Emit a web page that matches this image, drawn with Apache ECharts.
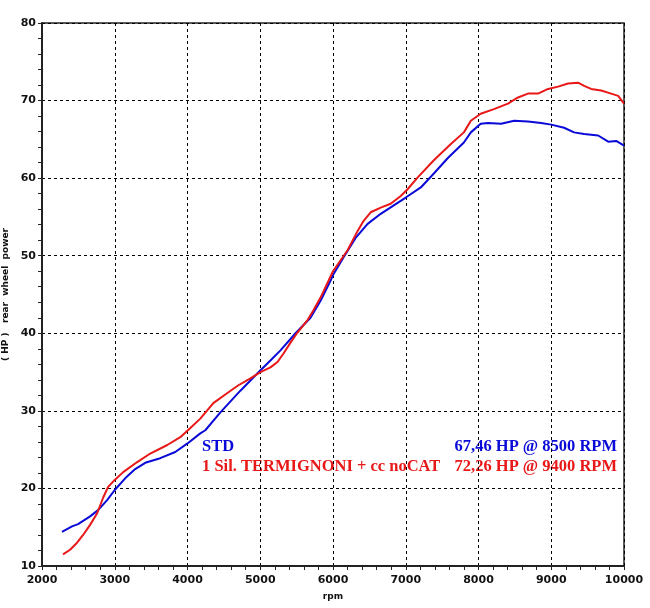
<!DOCTYPE html>
<html>
<head>
<meta charset="utf-8">
<script src="https://cdn.jsdelivr.net/npm/echarts@6/dist/echarts.min.js"></script>
<style>
  html, body { margin: 0; padding: 0; background: #fff; }
  #chart { width: 650px; height: 608px; }
</style>
</head>
<body>
<div id="chart"></div>
<script>
// STD curve (rpm, HP)
const stdRpm = [2275, 2413, 2496, 2661, 2771, 2895, 3000, 3143, 3281, 3419, 3625, 3832, 4000, 4176, 4245, 4452, 4727, 5000, 5140, 5278, 5485, 5691, 5829, 5967, 6000, 6146, 6311, 6476, 6656, 6835, 7000, 7207, 7386, 7579, 7799, 7895, 8030, 8130, 8310, 8490, 8680, 8860, 9000, 9176, 9314, 9452, 9645, 9783, 9893, 10000];
const stdHp  = [14.4, 15.1, 15.4, 16.4, 17.2, 18.5, 19.8, 21.3, 22.5, 23.3, 23.9, 24.7, 25.8, 27.1, 27.5, 29.8, 32.6, 35.2, 36.5, 37.8, 40.0, 42.0, 44.2, 46.8, 47.5, 49.8, 52.3, 54.1, 55.4, 56.5, 57.5, 58.8, 60.6, 62.6, 64.6, 65.9, 67.0, 67.1, 67.0, 67.4, 67.3, 67.1, 66.9, 66.5, 65.9, 65.7, 65.5, 64.7, 64.8, 64.2];

// Termignoni curve
const termRpm = [2289, 2386, 2482, 2565, 2661, 2758, 2840, 2909, 3000, 3116, 3309, 3488, 3722, 3901, 4039, 4176, 4355, 4548, 4700, 4865, 5003, 5140, 5237, 5320, 5416, 5512, 5650, 5733, 5829, 5940, 6000, 6200, 6339, 6421, 6518, 6656, 6793, 6931, 7028, 7165, 7386, 7620, 7799, 7895, 8030, 8212, 8405, 8543, 8680, 8818, 8956, 9094, 9231, 9369, 9452, 9548, 9686, 9824, 9920, 10000];
const termHp  = [11.5, 12.1, 13.0, 14.0, 15.3, 16.8, 18.8, 20.2, 21.1, 22.1, 23.4, 24.5, 25.6, 26.6, 27.8, 29.0, 31.0, 32.3, 33.3, 34.2, 35.0, 35.6, 36.3, 37.4, 38.8, 40.1, 41.7, 43.0, 44.6, 46.8, 48.0, 50.7, 53.2, 54.5, 55.6, 56.2, 56.7, 57.7, 58.6, 60.1, 62.3, 64.4, 65.9, 67.4, 68.3, 68.9, 69.6, 70.4, 70.9, 70.9, 71.5, 71.8, 72.2, 72.3, 71.9, 71.5, 71.3, 70.9, 70.6, 69.6];

const legendNames = ['STD', '1 Sil. TERMIGNONI + cc noCAT'];
const legendPeaks = ['67,46 HP @ 8500 RPM', '72,26 HP @ 9400 RPM'];
const colors = ['#0a0ad8', '#e81818'];

const chart = echarts.init(document.getElementById('chart'));

const axisFont = { color: '#111', fontFamily: 'DejaVu Sans', fontWeight: 'bold', fontSize: 11 };
const dashLine = { color: '#000', width: 1, type: [3, 3] };
const legendFont = 'bold 16.5px "Liberation Serif"';

function pairs(xs, ys) {
  return xs.map((x, i) => [x, ys[i]]);
}

chart.setOption({
  backgroundColor: '#fff',
  animation: false,
  grid: {
    left: 42, right: 26, top: 23, bottom: 42,
    outerBoundsMode: 'none',
    containLabel: false,
    show: true, borderColor: '#222', borderWidth: 1.5
  },
  xAxis: {
    type: 'value',
    min: 2000, max: 10000, interval: 1000,
    name: 'rpm',
    nameLocation: 'middle',
    nameGap: 26,
    nameTextStyle: { color: '#111', fontFamily: 'DejaVu Sans', fontWeight: 'bold', fontSize: 9 },
    axisLine: { show: true, lineStyle: { color: '#222', width: 2 } },
    axisTick: { show: true, length: 4, lineStyle: { color: '#222' } },
    minorTick: { show: true, splitNumber: 5, length: 4, lineStyle: { color: '#222' } },
    axisLabel: Object.assign({ margin: 9, formatter: v => String(v) }, axisFont),
    splitLine: { show: true, lineStyle: dashLine }
  },
  yAxis: {
    type: 'value',
    min: 10, max: 80, interval: 10,
    name: '( HP )   rear  wheel  power',
    nameLocation: 'middle',
    nameGap: 29,
    nameRotate: 90,
    nameTextStyle: { color: '#111', fontFamily: 'DejaVu Sans', fontWeight: 'bold', fontSize: 9 },
    axisLine: { show: true, lineStyle: { color: '#222', width: 2 } },
    axisTick: { show: true, length: 4, lineStyle: { color: '#222' } },
    minorTick: { show: true, splitNumber: 5, length: 4, lineStyle: { color: '#222' } },
    axisLabel: Object.assign({ margin: 6 }, axisFont),
    splitLine: { show: true, lineStyle: dashLine }
  },
  graphic: [
    { type: 'text', left: 202, top: 438, style: { text: legendNames[0], fill: colors[0], font: legendFont } },
    { type: 'text', right: 33, top: 438, style: { text: legendPeaks[0], fill: colors[0], font: legendFont } },
    { type: 'text', left: 202, top: 458, style: { text: legendNames[1], fill: colors[1], font: legendFont } },
    { type: 'text', right: 33, top: 458, style: { text: legendPeaks[1], fill: colors[1], font: legendFont } }
  ],
  series: [
    {
      name: legendNames[0],
      type: 'line',
      data: pairs(stdRpm, stdHp),
      showSymbol: false,
      lineStyle: { color: colors[0], width: 2 },
      z: 3
    },
    {
      name: legendNames[1],
      type: 'line',
      data: pairs(termRpm, termHp),
      showSymbol: false,
      lineStyle: { color: colors[1], width: 2 },
      z: 4
    }
  ]
});
</script>
</body>
</html>
